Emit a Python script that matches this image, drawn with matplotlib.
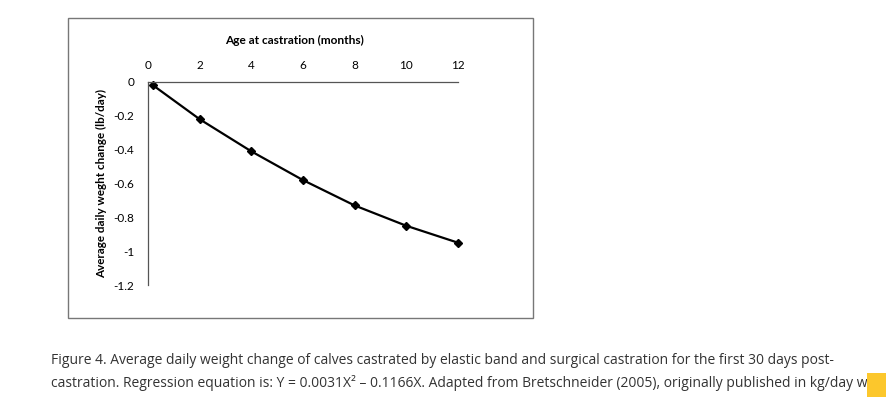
import matplotlib.pyplot as plt
from matplotlib.patches import Rectangle

# Age at castration (months) and average daily weight change (lb/day)
age_months = [0.2, 2, 4, 6, 8, 10, 12]
weight_change = [-0.02, -0.22, -0.41, -0.58, -0.73, -0.85, -0.95]

x_ticks = [0, 2, 4, 6, 8, 10, 12]
y_ticks = [0, -0.2, -0.4, -0.6, -0.8, -1, -1.2]
y_tick_labels = ['0', '-0.2', '-0.4', '-0.6', '-0.8', '-1', '-1.2']

caption_line1 = ('Figure 4. Average daily weight change of calves castrated by elastic band '
                 'and surgical castration for the first 30 days post-')
caption_line2 = ('castration. Regression equation is: Y = 0.0031X\u00b2 \u2013 0.1166X. Adapted from '
                 'Bretschneider (2005), originally published in kg/day w')

W, H = 887, 397
fig = plt.figure(figsize=(W / 100, H / 100), dpi=100)

# frame around the chart image
fig.patches.append(Rectangle((68 / W, 1 - 318 / H), (533 - 68) / W, (318 - 18) / H,
                             transform=fig.transFigure, fill=False,
                             edgecolor='#777777', linewidth=1.0))

ax = fig.add_axes([148 / W, 1 - 285 / H, (458 - 148) / W, (285 - 82) / H])
ax.plot(age_months, weight_change, color='black', linewidth=1.6,
        marker='D', markersize=4.5, clip_on=False)

ax.set_xlim(0, 12)
ax.set_ylim(-1.2, 0)
ax.set_xticks(x_ticks)
ax.set_yticks(y_ticks)
ax.set_yticklabels(y_tick_labels)
ax.xaxis.tick_top()
ax.tick_params(length=0, labelsize=8.5, pad=8, colors='black', labelfontfamily='Lato')
ax.tick_params(axis='y', pad=10)
for s in ['right', 'bottom']:
    ax.spines[s].set_visible(False)
for s in ['top', 'left']:
    ax.spines[s].set_color('#555555')
    ax.spines[s].set_linewidth(0.9)

fig.text(295 / W, 1 - 40 / H, 'Age at castration (months)', ha='center', va='center',
         fontsize=8.6, fontweight='bold', family='Lato')
fig.text(102 / W, 1 - 183 / H, 'Average daily weght change (lb/day)', ha='center',
         va='center', rotation=90, fontsize=8.4, fontweight='bold', family='Lato')

fig.text(51 / W, 1 - 360 / H, caption_line1, ha='left', va='center',
         fontsize=10.0, family='Open Sans', color='#333333')
fig.text(51 / W, 1 - 383 / H, caption_line2, ha='left', va='center',
         fontsize=10.0, family='Open Sans', color='#333333')

# yellow badge at the bottom right corner
fig.patches.append(Rectangle((867 / W, 0), 20 / W, 24 / H, transform=fig.transFigure,
                             facecolor='#fcc72c', edgecolor='none', zorder=5))

fig.savefig('out.png', dpi=100)
